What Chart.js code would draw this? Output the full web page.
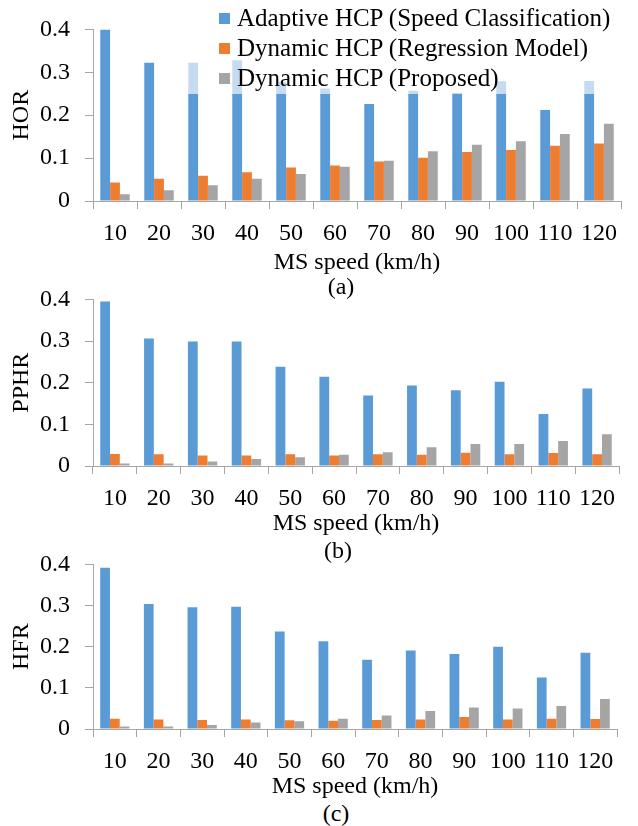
<!DOCTYPE html>
<html>
<head>
<meta charset="utf-8">
<script src="https://cdn.jsdelivr.net/npm/chart.js@4.4.0/dist/chart.umd.min.js"></script>
<style>
  html, body { margin: 0; padding: 0; background: #fff; }
  #page { position: relative; width: 638px; height: 826px; overflow: hidden;
          font-family: "Liberation Serif", "Times New Roman", serif; color: #000; }
  #page canvas { position: absolute; left: 0; }
  .cap { position: absolute; width: 60px; text-align: center; font-size: 24px; line-height: 24px; }
  #legend { position: absolute; left: 175px; top: 0; width: 463px; height: 94px;
            background: rgba(255,255,255,0.65); box-sizing: border-box; padding-top: 3px; }
  #legend .row { height: 30px; display: flex; align-items: center; font-size: 25px; white-space: nowrap; }
  #legend .sw { width: 11px; height: 11px; margin-left: 44px; margin-right: 7px; flex: none; }
</style>
</head>
<body>
<div id="page">
  <canvas id="c1" width="638" height="275" style="top:0px"></canvas>
  <canvas id="c2" width="638" height="266" style="top:270px"></canvas>
  <canvas id="c3" width="638" height="264" style="top:535px"></canvas>
  <div id="legend"></div>
  <div class="cap" style="left:311px; top:274px">(a)</div>
  <div class="cap" style="left:308px; top:538px">(b)</div>
  <div class="cap" style="left:306px; top:801px">(c)</div>
</div>
<script>
// Mobile-station speeds (km/h)
const speeds = ['10', '20', '30', '40', '50', '60', '70', '80', '90', '100', '110', '120'];
const yTicks = [0, 0.1, 0.2, 0.3, 0.4];

const seriesNames = [
  'Adaptive HCP (Speed Classification)',
  'Dynamic HCP (Regression Model)',
  'Dynamic HCP (Proposed)'
];
const seriesColors = ['#5B9BD5', '#ED7D31', '#A5A5A5'];

// (a) handover ratio
const horAdaptive   = [0.400, 0.322, 0.322, 0.328, 0.278, 0.262, 0.226, 0.257, 0.252, 0.279, 0.212, 0.280];
const horRegression = [0.043, 0.052, 0.059, 0.067, 0.078, 0.083, 0.092, 0.101, 0.114, 0.119, 0.129, 0.134];
const horProposed   = [0.016, 0.025, 0.037, 0.052, 0.063, 0.080, 0.094, 0.116, 0.131, 0.139, 0.156, 0.180];

// (b) ping-pong handover ratio
const pphrAdaptive   = [0.395, 0.306, 0.299, 0.299, 0.238, 0.214, 0.169, 0.193, 0.182, 0.202, 0.125, 0.186];
const pphrRegression = [0.029, 0.028, 0.025, 0.025, 0.028, 0.025, 0.028, 0.027, 0.032, 0.028, 0.031, 0.028];
const pphrProposed   = [0.006, 0.006, 0.011, 0.017, 0.021, 0.027, 0.033, 0.045, 0.053, 0.053, 0.060, 0.076];

// (c) handover failure ratio
const hfrAdaptive   = [0.392, 0.304, 0.296, 0.297, 0.237, 0.213, 0.168, 0.191, 0.182, 0.200, 0.125, 0.185];
const hfrRegression = [0.025, 0.023, 0.022, 0.023, 0.021, 0.020, 0.022, 0.023, 0.029, 0.023, 0.025, 0.024];
const hfrProposed   = [0.006, 0.006, 0.010, 0.016, 0.019, 0.025, 0.033, 0.044, 0.052, 0.050, 0.056, 0.073];

const FONT = '"Liberation Serif", "Times New Roman", serif';
const AXIS = '#A6A6A6';

function makeChart(canvasId, yTitle, values, lay) {
  const datasets = values.map((v, i) => ({
    label: seriesNames[i],
    data: v,
    backgroundColor: seriesColors[i],
    borderWidth: 0,
    categoryPercentage: 0.67,
    barPercentage: 1.0
  }));
  return new Chart(document.getElementById(canvasId), {
    type: 'bar',
    data: { labels: speeds, datasets },
    options: {
      responsive: false,
      animation: false,
      events: [],
      layout: { autoPadding: false, padding: { top: lay.top, right: lay.right, left: 0, bottom: 0 } },
      plugins: { legend: { display: false }, tooltip: { enabled: false }, title: { display: false } },
      scales: {
        x: {
          offset: true,
          grid: { display: true, drawOnChartArea: false, drawTicks: true, tickLength: 8, color: AXIS, offset: true },
          border: { display: true, color: AXIS, width: 1 },
          ticks: { color: '#000', padding: lay.tickPad, font: { family: FONT, size: 24 }, maxRotation: 0, autoSkip: false },
          title: { display: true, text: 'MS speed (km/h)', color: '#000',
                   font: { family: FONT, size: 24, lineHeight: 1 }, padding: { top: 0, bottom: lay.titlePad } },
          afterFit(s) { s.height = lay.xHeight; }
        },
        y: {
          min: 0, max: 0.4,
          afterBuildTicks(s) { s.ticks = yTicks.map(v => ({ value: v })); },
          grid: { display: true, drawOnChartArea: false, drawTicks: true, tickLength: 8, color: AXIS },
          border: { display: true, color: AXIS, width: 1 },
          ticks: { color: '#000', padding: 15, font: { family: FONT, size: 24 }, callback: v => String(v) },
          title: { display: true, text: yTitle, color: '#000',
                   font: { family: FONT, size: 24, lineHeight: 1 }, padding: { top: 10, bottom: 0 } },
          afterFit(s) { s.width = 93; }
        }
      }
    }
  });
}

const chartA = makeChart('c1', 'HOR',  [horAdaptive, horRegression, horProposed],
  { top: 22, right: 17, xHeight: 74, tickPad: 10, titlePad: 0 });
makeChart('c2', 'PPHR', [pphrAdaptive, pphrRegression, pphrProposed],
  { top: 26, right: 19, xHeight: 70, tickPad: 10, titlePad: 0 });
makeChart('c3', 'HFR',  [hfrAdaptive, hfrRegression, hfrProposed],
  { top: 26, right: 21, xHeight: 70, tickPad: 10, titlePad: 0 });

// Legend box drawn over the top panel, built from its datasets
const legend = document.getElementById('legend');
chartA.data.datasets.forEach(ds => {
  const row = document.createElement('div');
  row.className = 'row';
  const sw = document.createElement('span');
  sw.className = 'sw';
  sw.style.background = ds.backgroundColor;
  const txt = document.createElement('span');
  txt.textContent = ds.label;
  row.appendChild(sw);
  row.appendChild(txt);
  legend.appendChild(row);
});
</script>
</body>
</html>
